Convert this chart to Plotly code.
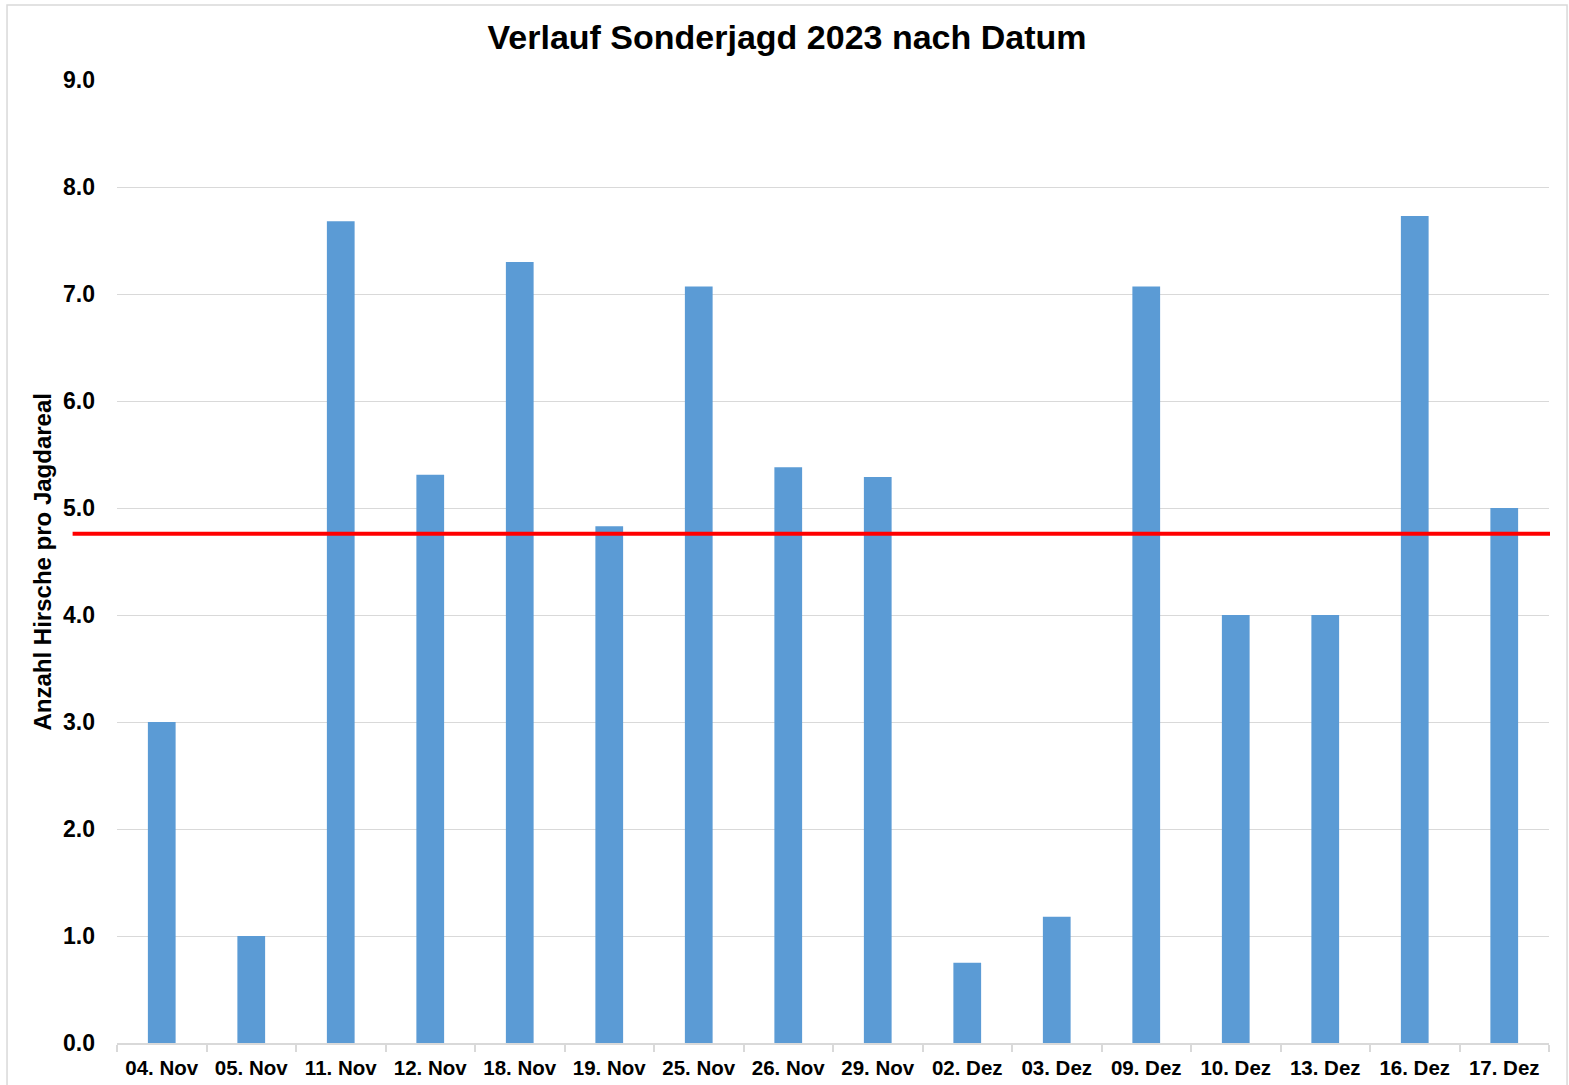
import plotly.graph_objects as go

categories = ["04. Nov", "05. Nov", "11. Nov", "12. Nov", "18. Nov", "19. Nov", "25. Nov", "26. Nov",
              "29. Nov", "02. Dez", "03. Dez", "09. Dez", "10. Dez", "13. Dez", "16. Dez", "17. Dez"]
values = [3.0, 1.0, 7.68, 5.31, 7.30, 4.83, 7.07, 5.38, 5.29, 0.75, 1.18, 7.07, 4.0, 4.0, 7.73, 5.0]
mean_value = 4.76
y_ticks = [0, 1, 2, 3, 4, 5, 6, 7, 8, 9]

FONT = "Liberation Sans, Arial, sans-serif"

fig = go.Figure()
fig.add_trace(go.Bar(x=categories, y=values, marker=dict(color="#5B9BD5", line=dict(width=0)),
                     hoverinfo="x+y", showlegend=False))

fig.add_shape(type="line", xref="paper", yref="y", x0=-0.031, x1=1.0007, y0=mean_value, y1=mean_value,
              line=dict(color="#FF0000", width=4), layer="above")

# chart border
fig.add_shape(type="rect", xref="paper", yref="paper", x0=-0.0768, x1=1.0126, y0=-0.06, y1=1.0779,
              line=dict(color="#D9D9D9", width=1.5), fillcolor="rgba(0,0,0,0)", layer="below")

fig.add_annotation(text="<b>Anzahl Hirsche pro Jagdareal</b>", xref="paper", yref="paper",
                   x=-0.0517, y=0.5, textangle=-90, showarrow=False,
                   font=dict(family=FONT, size=24, color="#000000"), xanchor="center", yanchor="middle")

fig.update_layout(
    width=1569, height=1085,
    margin=dict(l=117, r=20, t=80, b=42, pad=0),
    paper_bgcolor="white", plot_bgcolor="white",
    bargap=0.69,
    title=dict(text="<b>Verlauf Sonderjagd 2023 nach Datum</b>", x=787 / 1569, xref="container",
               xanchor="center", y=1 - 37 / 1085, yref="container", yanchor="middle",
               font=dict(family=FONT, size=34, color="#000000")),
    font=dict(family=FONT, color="#000000"),
)

fig.update_xaxes(type="category", showgrid=False, showline=True, linecolor="#D9D9D9", linewidth=1.5,
                 ticks="outside", tickson="boundaries", ticklen=7, tickcolor="#D9D9D9", tickwidth=1.5,
                 ticklabelstandoff=6,
                 tickfont=dict(family=FONT, size=20.5, color="#000000"), tickprefix="<b>", ticksuffix="</b>",
                 automargin=False, fixedrange=True)
fig.update_yaxes(range=[0, 9], tickvals=y_ticks, ticktext=[f"<b>{v:.1f}</b>" for v in y_ticks],
                 showgrid=True, gridcolor="#D9D9D9", gridwidth=1.2, zeroline=False, showline=False,
                 ticks="", ticklabelstandoff=21, automargin=False,
                 tickfont=dict(family=FONT, size=23, color="#000000"), fixedrange=True)

fig.write_html("out.html", config={"displayModeBar": False},
               post_script="document.body.style.margin='0px';")
